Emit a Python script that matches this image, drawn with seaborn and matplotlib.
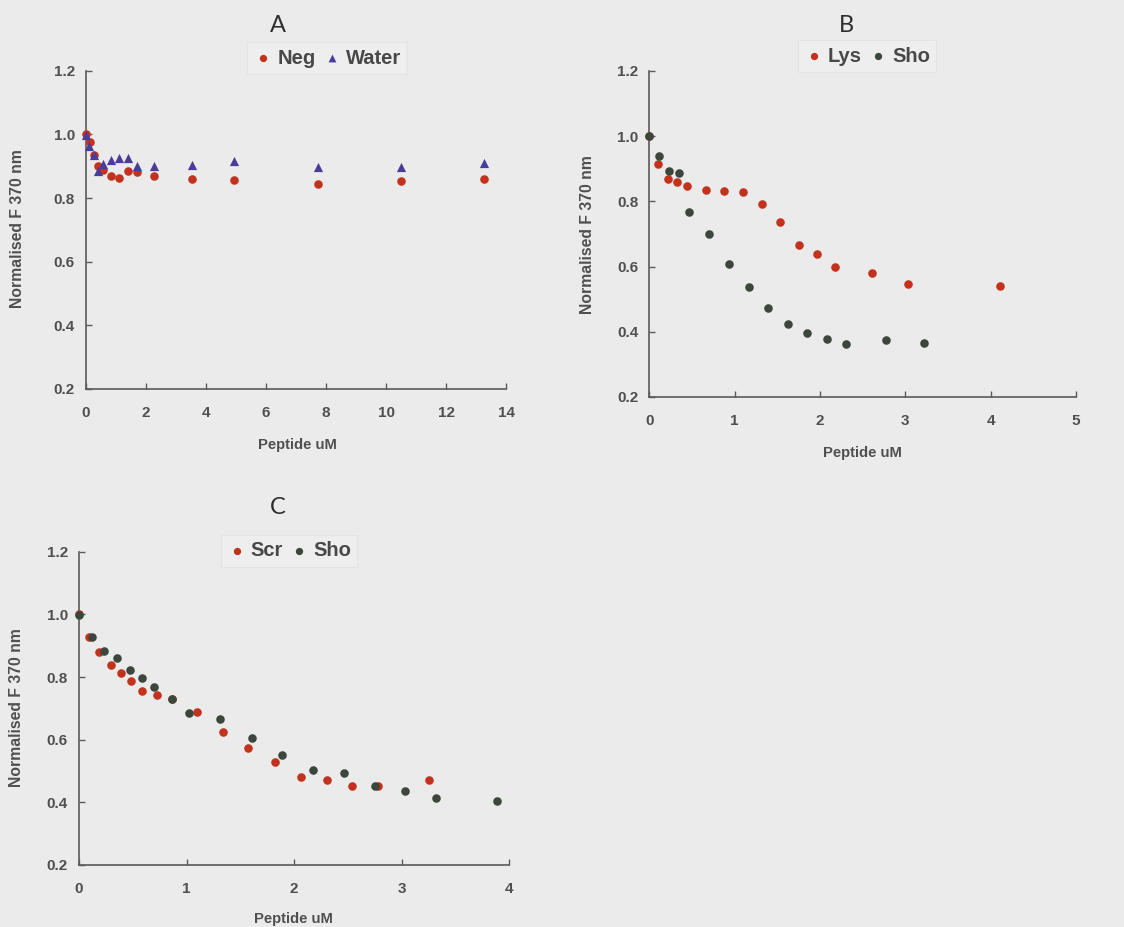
import numpy as np
import pandas as pd
import matplotlib
matplotlib.use("Agg")
import matplotlib.pyplot as plt
import seaborn as sns

# ---- Panel A: Neg vs Water ----
a_neg_x = [0.0, 0.13, 0.27, 0.40, 0.56, 0.83, 1.11, 1.39, 1.69, 2.26, 3.53, 4.94, 7.73, 10.50, 13.28]
a_neg_y = [1.000, 0.977, 0.934, 0.902, 0.888, 0.870, 0.864, 0.886, 0.881, 0.869, 0.859, 0.856, 0.845, 0.855, 0.859]
a_wat_x = [0.0, 0.11, 0.27, 0.40, 0.56, 0.83, 1.11, 1.39, 1.69, 2.26, 3.53, 4.94, 7.73, 10.50, 13.28]
a_wat_y = [0.998, 0.962, 0.934, 0.886, 0.907, 0.920, 0.925, 0.925, 0.902, 0.902, 0.904, 0.917, 0.896, 0.897, 0.909]

# ---- Panel B: Lys vs Sho ----
b_lys_x = [0.0, 0.105, 0.215, 0.328, 0.438, 0.66, 0.88, 1.10, 1.316, 1.535, 1.75, 1.965, 2.18, 2.61, 3.035, 4.11]
b_lys_y = [1.000, 0.914, 0.868, 0.861, 0.848, 0.834, 0.833, 0.828, 0.791, 0.738, 0.666, 0.638, 0.598, 0.581, 0.546, 0.542]
b_sho_x = [0.0, 0.113, 0.23, 0.35, 0.47, 0.70, 0.934, 1.164, 1.395, 1.625, 1.85, 2.08, 2.31, 2.77, 3.22]
b_sho_y = [1.000, 0.940, 0.894, 0.887, 0.767, 0.700, 0.608, 0.538, 0.474, 0.424, 0.397, 0.379, 0.364, 0.374, 0.365]

# ---- Panel C: Scr vs Sho ----
c_scr_x = [0.0, 0.09, 0.19, 0.295, 0.39, 0.487, 0.586, 0.726, 0.865, 1.098, 1.34, 1.575, 1.823, 2.065, 2.304, 2.54, 2.78, 3.256]
c_scr_y = [1.000, 0.928, 0.880, 0.837, 0.814, 0.786, 0.756, 0.743, 0.729, 0.687, 0.624, 0.572, 0.529, 0.481, 0.471, 0.452, 0.452, 0.470]
c_sho_x = [0.0, 0.118, 0.233, 0.35, 0.47, 0.59, 0.70, 0.868, 1.026, 1.31, 1.606, 1.89, 2.177, 2.468, 2.753, 3.035, 3.318, 3.885]
c_sho_y = [0.999, 0.927, 0.882, 0.861, 0.823, 0.797, 0.767, 0.731, 0.684, 0.665, 0.606, 0.552, 0.503, 0.493, 0.452, 0.437, 0.414, 0.403]

y_ticks = [0.2, 0.4, 0.6, 0.8, 1.0, 1.2]
y_label = "Normalised F 370 nm"
x_label = "Peptide uM"

W, H = 1124, 927
BG = "#ebebeb"
RED = "#c2321c"
BLUE = "#4a3c9c"
DARK = "#3c463c"
TXT = "#505050"
AXC = "#5a5a5a"

sns.set_theme(style="ticks")
plt.rcParams["font.family"] = ["Liberation Sans", "DejaVu Sans"]

fig = plt.figure(figsize=(W / 100, H / 100), dpi=100, facecolor=BG)


def px_axes(left, top, right, bottom):
    return fig.add_axes([left / W, 1 - bottom / H, (right - left) / W, (bottom - top) / H])


def px_text(x, y, s, **kw):
    fig.text(x / W, 1 - y / H, s, ha="center", va="center", **kw)


def style_axes(ax, xmax, xstep):
    ax.set_facecolor(BG)
    ax.set_xlim(0, xmax)
    ax.set_ylim(0.2, 1.2)
    ax.set_xticks(np.arange(0, xmax + 0.001, xstep))
    ax.set_yticks(y_ticks)
    ax.set_xticklabels([f"{v:g}" for v in np.arange(0, xmax + 0.001, xstep)])
    ax.set_yticklabels([f"{v:.1f}" for v in y_ticks])
    sns.despine(ax=ax)
    for sp in ("left", "bottom"):
        ax.spines[sp].set_color(AXC)
        ax.spines[sp].set_linewidth(1.2)
    ax.tick_params(direction="in", length=4, width=1.0, color=AXC,
                   labelcolor=TXT, labelsize=11)
    ax.tick_params(axis="x", pad=12)
    ax.tick_params(axis="y", pad=8)
    for lab in ax.get_xticklabels() + ax.get_yticklabels():
        lab.set_fontweight("bold")
    ax.set_xlabel("")
    ax.set_ylabel("")


def add_legend(ax, cx, cy):
    leg = ax.legend(loc="center", bbox_to_anchor=(cx / W, 1 - cy / H),
                    bbox_transform=fig.transFigure, ncol=2, frameon=True,
                    fancybox=False, handlelength=1.0, handletextpad=0.2,
                    columnspacing=0.3, borderpad=0.3, markerscale=0.85,
                    prop={"size": 14.5, "weight": "bold"})
    leg.get_frame().set_facecolor("#efefef")
    leg.get_frame().set_edgecolor("#e2e2e2")
    leg.get_frame().set_linewidth(0.8)
    for t in leg.get_texts():
        t.set_color("#484848")


MS = 38
TITLE_FONT = ["Lato", "DejaVu Sans"]

# Panel A
axA = px_axes(86, 70.7, 506, 389)
dfA1 = pd.DataFrame({"x": a_neg_x, "y": a_neg_y})
dfA2 = pd.DataFrame({"x": a_wat_x, "y": a_wat_y})
sns.scatterplot(data=dfA1, x="x", y="y", ax=axA, color=RED, s=MS, marker="o",
                linewidth=0, label="Neg", clip_on=False, zorder=3)
sns.scatterplot(data=dfA2, x="x", y="y", ax=axA, color=BLUE, s=MS + 6, marker="^",
                linewidth=0, label="Water", clip_on=False, zorder=4)
style_axes(axA, 14, 2)
add_legend(axA, 327, 58)
px_text(278, 26, "A", fontsize=17, color="#2e2e2e", family=TITLE_FONT)
px_text(18, 229, y_label, fontsize=11.3, color=TXT, rotation=90, fontweight="bold")
px_text(297, 445, x_label, fontsize=10.7, color=TXT, fontweight="bold")

# Panel B
axB = px_axes(649.3, 71, 1076, 397)
dfB1 = pd.DataFrame({"x": b_lys_x, "y": b_lys_y})
dfB2 = pd.DataFrame({"x": b_sho_x, "y": b_sho_y})
sns.scatterplot(data=dfB1, x="x", y="y", ax=axB, color=RED, s=MS, marker="o",
                linewidth=0, label="Lys", clip_on=False, zorder=3)
sns.scatterplot(data=dfB2, x="x", y="y", ax=axB, color=DARK, s=MS, marker="o",
                linewidth=0, label="Sho", clip_on=False, zorder=4)
style_axes(axB, 5, 1)
add_legend(axB, 867, 56)
px_text(846, 26, "B", fontsize=17, color="#2e2e2e", family=TITLE_FONT)
px_text(588, 235, y_label, fontsize=11.3, color=TXT, rotation=90, fontweight="bold")
px_text(862, 453, x_label, fontsize=10.7, color=TXT, fontweight="bold")

# Panel C
axC = px_axes(79, 551.7, 509, 865)
dfC1 = pd.DataFrame({"x": c_scr_x, "y": c_scr_y})
dfC2 = pd.DataFrame({"x": c_sho_x, "y": c_sho_y})
sns.scatterplot(data=dfC1, x="x", y="y", ax=axC, color=RED, s=MS, marker="o",
                linewidth=0, label="Scr", clip_on=False, zorder=3)
sns.scatterplot(data=dfC2, x="x", y="y", ax=axC, color=DARK, s=MS, marker="o",
                linewidth=0, label="Sho", clip_on=False, zorder=4)
style_axes(axC, 4, 1)
add_legend(axC, 289, 551)
px_text(278, 508, "C", fontsize=17, color="#2e2e2e", family=TITLE_FONT)
px_text(17, 708, y_label, fontsize=11.3, color=TXT, rotation=90, fontweight="bold")
px_text(293, 919, x_label, fontsize=10.7, color=TXT, fontweight="bold")

fig.savefig("out.png", dpi=100, facecolor=BG)
